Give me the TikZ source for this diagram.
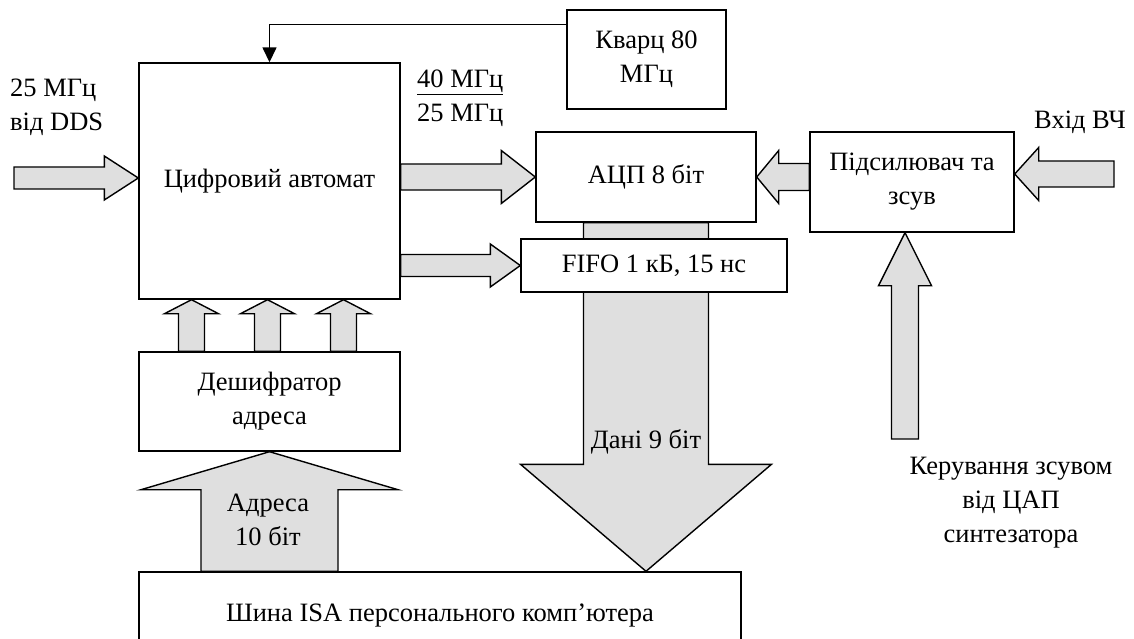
\documentclass[tikz,border=0pt]{standalone}
\usepackage{fontspec}
\setmainfont{Liberation Serif}
\usepackage{tikz}
\usetikzlibrary{positioning,arrows.meta,calc}
\definecolor{busgray}{HTML}{DFDFDF}
\tikzset{
  blk/.style ={rectangle, draw=black, fill=white, line width=1.4pt, align=center, inner sep=0pt},
  fat/.style ={draw=black, fill=busgray, line width=1.4pt, line join=miter},
  clk/.style ={-{Triangle[length=15pt,width=14pt]}, line width=1.5pt},
  lbl/.style ={align=center, inner sep=0pt},
}
% block arrow: from, to, half shaft, half head, head length
\newcommand{\fatarrow}[5]{%
  \coordinate (fh) at ($(#2)!#5!(#1)$);
  \draw[fat] ($(#1)!#3!90:(#2)$) -- ($(fh)!#3!90:(#2)$) -- ($(fh)!#4!90:(#2)$)
    -- (#2) -- ($(fh)!#4!-90:(#2)$) -- ($(fh)!#3!-90:(#2)$) -- ($(#1)!#3!-90:(#2)$) -- cycle;
}

\begin{document}
\begin{tikzpicture}[x=1pt, y=-1pt, font=\fontsize{26.5}{34}\selectfont]
  \useasboundingbox (0,0) rectangle (1134,639);

  % blocks
  \node[blk, minimum width=261pt, minimum height=236pt] (ca)  at (269.5,181)   {Цифровий автомат};
  \node[blk, minimum width=159pt, minimum height=99pt]  (qz)  at (646.5,59.5)  {Кварц 80\\МГц};
  \node[blk, minimum width=220pt, minimum height=90pt]  (adc) at (646,177)     {АЦП 8 біт};
  \node[blk, minimum width=204pt, minimum height=100pt] (amp) at (912,182)     {Підсилювач та\\зсув};
  \node[blk, minimum width=261pt, minimum height=99pt]  (dec) at (269.5,401.5) {Дешифратор\\адреса};
  \node[blk, minimum width=602pt, minimum height=88pt]  (isa) at (440,616)     {Шина ISA персонального комп’ютера};

  % data bus, FIFO sits on top of it
  \coordinate (dbus) at (adc.south |- isa.north);
  \fatarrow{adc.south}{dbus}{62.5pt}{125.5pt}{107pt}
  \node[lbl] (dlab) at (646,442) {Дані 9 біт};
  \node[blk, minimum width=266pt, minimum height=53pt] (fifo) at (654,265.5) {FIFO 1 кБ, 15 нс};

  % clock
  \draw[clk] ([yshift=-15pt]qz.north west) -| (ca.north);

  % inputs
  \coordinate (ddsin) at (14,178);
  \fatarrow{ddsin}{ca.west |- ddsin}{11pt}{22pt}{34pt}
  \coordinate (rfin) at (1114,174);
  \fatarrow{rfin}{amp.east |- rfin}{13pt}{26.5pt}{24pt}
  \coordinate (ctl) at (905,439);
  \fatarrow{ctl}{ctl |- amp.south}{13.5pt}{26.5pt}{53pt}

  % automaton and amplifier outputs
  \coordinate (a1) at (ca.east |- adc.west);
  \fatarrow{a1}{adc.west}{13pt}{26.5pt}{34pt}
  \coordinate (a2) at (ca.east |- fifo.west);
  \fatarrow{a2}{fifo.west}{11pt}{21.5pt}{30pt}
  \coordinate (a3) at (amp.west |- adc.east);
  \fatarrow{a3}{adc.east}{13.5pt}{26.5pt}{22pt}

  % decoder lines
  \foreach \dx in {-78,-2,74} {
    \coordinate (s) at ($(dec.north)+(\dx,0)$);
    \coordinate (t) at (s |- ca.south);
    \fatarrow{s}{t}{13pt}{27pt}{14pt}
  }

  % address bus
  \coordinate (abus) at (dec.south |- isa.north);
  \fatarrow{abus}{dec.south}{68.5pt}{128.5pt}{38pt}
  \node[lbl] (alab) at (268,520) {Адреса\\10 біт};

  % labels
  \node[lbl, align=left, anchor=west] (ddslab) at (10,107) {25 МГц\\від DDS};
  \node[lbl, align=left, anchor=west] (frqlab) at (417,98) {\underline{40 МГц}\\25 МГц};
  \node[lbl] (rflab) at (1080,122) {Вхід ВЧ};
  \node[lbl] (ctllab) at (1011,503) {Керування зсувом\\від ЦАП\\синтезатора};
\end{tikzpicture}
\end{document}
